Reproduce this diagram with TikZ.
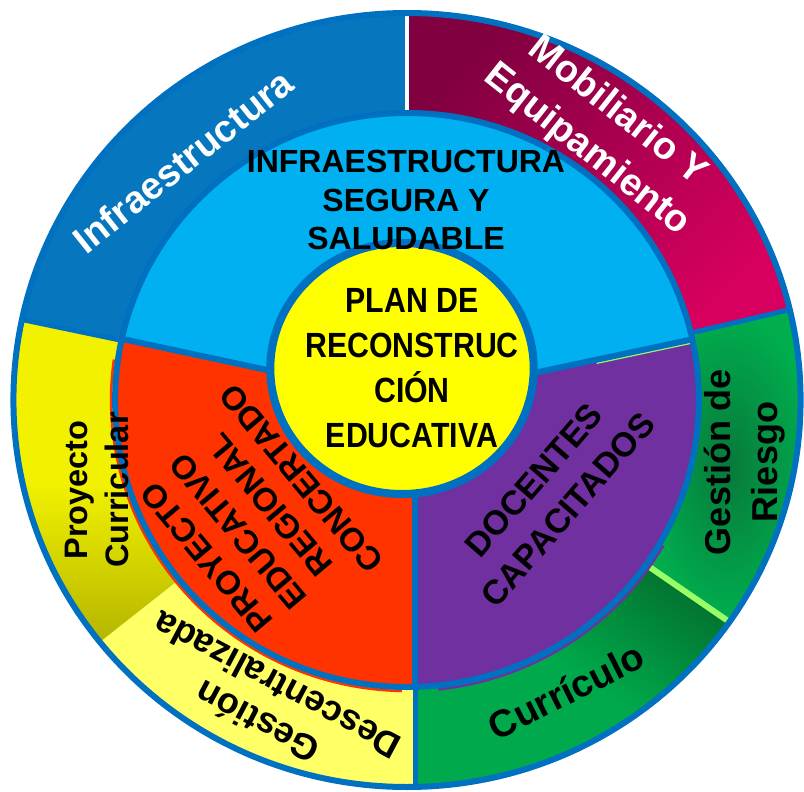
\documentclass[tikz,border=0pt]{standalone}
\usepackage{fontspec}
\setmainfont{Liberation Sans}
\newfontfamily\narrowsans[FakeStretch=0.865]{Liberation Sans}
\definecolor{bordblue}{HTML}{0070C0}
\definecolor{infrablue}{HTML}{0677BF}
\definecolor{skyblue}{HTML}{00B0F0}
\definecolor{redorange}{HTML}{FF3300}
\definecolor{purplec}{HTML}{7030A0}
\definecolor{yellowc}{HTML}{FFFF00}
\definecolor{lightyellow}{HTML}{FFFF66}
\definecolor{pcyellow}{HTML}{F2F200}
\definecolor{pcolive}{HTML}{B5B500}
\definecolor{mobdark}{HTML}{800040}
\definecolor{mobbright}{HTML}{D8005F}
\definecolor{grgreen}{HTML}{00AE4E}
\definecolor{grdark}{HTML}{07793A}
\definecolor{currgreen}{HTML}{00AA4C}
\definecolor{currdark}{HTML}{027530}
\definecolor{lgreen}{HTML}{99FF66}
\newcommand\myfs[2]{\fontsize{#1}{#2}\selectfont}
\newcommand\sectorpath[4]{(#1:#3) -- (#1:#4) arc[start angle=#1, end angle=#2, radius=#4] -- (#2:#3) arc[start angle=#2, end angle=#1, radius=#3] -- cycle}
\begin{document}
\begin{tikzpicture}[x=1pt, y=-1pt,
  lbl/.style={inner sep=0pt, align=center},
  bline/.style={draw=bordblue, line width=5pt}]
\useasboundingbox (0,0) rectangle (804,792);
\clip (0,0) rectangle (804,792);
\begin{scope}[shift={(407,400)}, x=1.017pt, y=1pt]
  % outer ring segments
  \fill[infrablue] \sectorpath{90}{168}{280}{387};
  \shade[top color=mobdark, bottom color=mobbright, shading angle=45] \sectorpath{13.5}{90}{280}{387};
  \shade[inner color=grdark, outer color=grgreen] \sectorpath{-35}{13.5}{280}{387};
  \shade[top color=currdark, bottom color=currgreen, middle color=currgreen, shading angle=-35] \sectorpath{-88.7}{-35}{280}{387};
  \fill[lightyellow] \sectorpath{-141.3}{-88.7}{280}{387};
  \shade[top color=pcyellow, bottom color=pcolive, middle color=pcyellow] \sectorpath{168}{218.7}{280}{387};
  % outer ring boundaries
  \draw[bline] (168:283) -- (168:388);
  \draw[white, line width=4pt] (90:283) -- (90:388);
  \draw[bline] (13.5:283) -- (13.5:388);
  \draw[lgreen, line width=6pt] (-35:283) -- (-35:388);
  \draw[bline] (7.9,-283) -- (7.9,-388);
  \draw[bordblue, line width=6pt] (0,0) circle[radius=387];
  % thin rims
  \draw[redorange, line width=2.5pt] (172:291) arc[start angle=172, end angle=269, radius=291];
  \draw[purplec, line width=2.5pt] (-84:291) arc[start angle=-84, end angle=-30, radius=291];
  % middle disk
  \fill[redorange] (0,0) circle[radius=287];
  \begin{scope}
    \clip (7.9,-400) rectangle (400,400);
    \fill[purplec] (0,0) -- (-100:287) arc[start angle=-100, end angle=12.2, radius=287] -- cycle;
  \end{scope}
  \fill[skyblue] (0,0) -- (12.2:287) arc[start angle=12.2, end angle=167.7, radius=287] -- cycle;
  \draw[lgreen, line width=1.5pt, shift={(0.74,-3.4)}] (12.2:190) -- (12.2:284);
  \draw[bordblue, line width=6pt] (0,0) circle[radius=287];
  \draw[bordblue, line width=6pt] (0,0) -- (12.2:287) (0,0) -- (167.7:287) (7.9,0) -- (7.9,-287);
\end{scope}
% centre
\draw[bordblue, line width=8pt, fill=yellowc] (402,368.5) ellipse[x radius=131.7, y radius=125.5];
% texts
\node[lbl, white, rotate=38.5, font=\bfseries\myfs{38}{46}] (tinf) at (183,161) {Infraestructura};
\node[lbl, white, rotate=-38.4, font=\bfseries\myfs{38}{49}] (tmob) at (602,131) {Mobiliario Y\\Equipamiento};
\node[lbl, rotate=90, font=\bfseries\myfs{36}{47}] (tgr) at (745,462) {Gestión de\\Riesgo};
\node[lbl, rotate=26.6, font=\bfseries\myfs{38}{46}] (tcur) at (566,691) {Currículo};
\node[lbl, rotate=152, font=\bfseries\myfs{36}{42}] (tgd) at (267,704) {Gestión\\Descentralizada};
\node[lbl, rotate=90, font=\bfseries\myfs{32.5}{41}] (tpc) at (97,490) {Proyecto\\Curricular};
\node[lbl, font=\bfseries\myfs{32}{38.5}] (tisy) at (406,200) {INFRAESTRUCTURA\\SEGURA Y\\SALUDABLE};
\node[lbl, font=\narrowsans\bfseries\myfs{35}{45}] (tplan) at (412,368) {PLAN DE\\RECONSTRUC\\CIÓN\\EDUCATIVA};
\node[lbl, rotate=130, font=\bfseries\myfs{33}{41}] (tper) at (254,518) {PROYECTO\\EDUCATIVO\\REGIONAL\\CONCERTADO};
\node[lbl, rotate=49, font=\bfseries\myfs{34}{45}] (tdoc) at (551,495) {DOCENTES\\CAPACITADOS};
\end{tikzpicture}
\end{document}
